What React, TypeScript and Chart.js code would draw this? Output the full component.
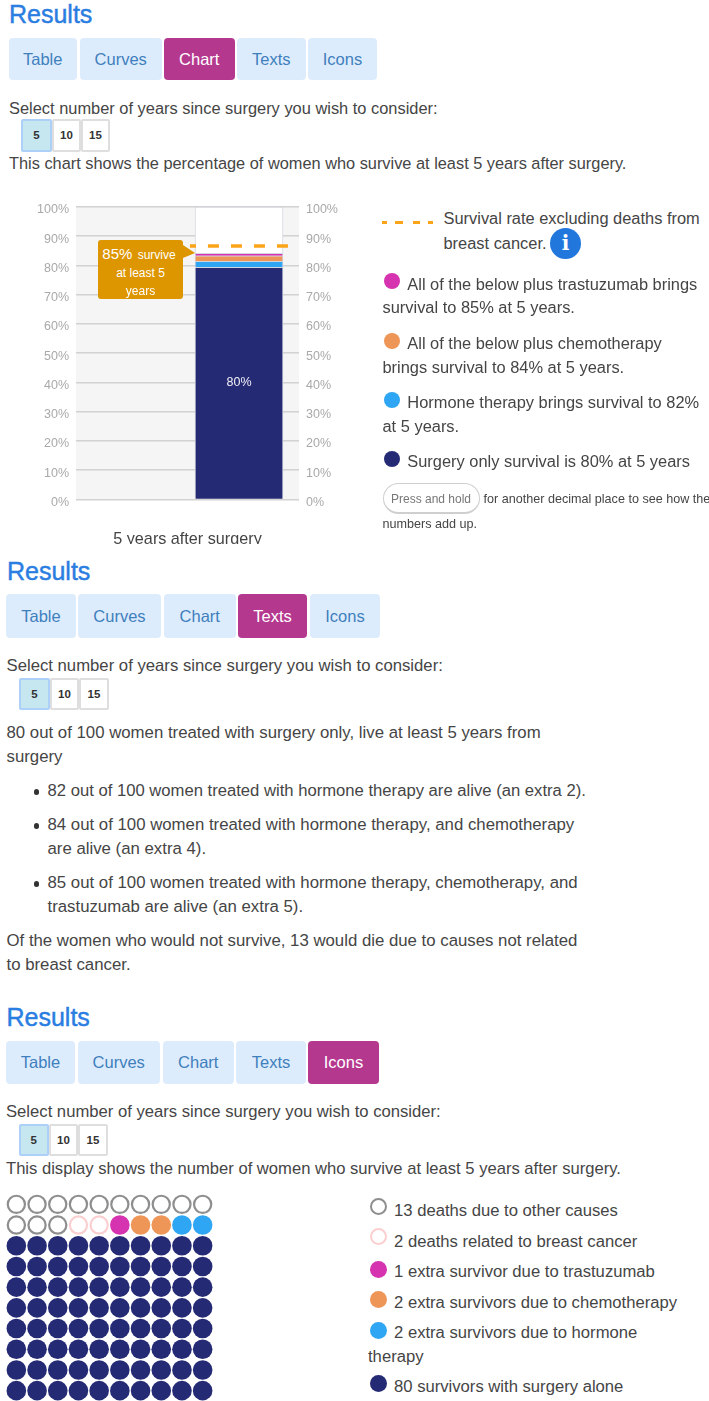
import React, { useEffect, useRef } from "react";
import { Chart, registerables } from "chart.js";

Chart.register(...registerables);

// ---- data ----
const barCategoryPosition = [0.731];
const barLabel = "5 years after surgery";
const barValueLabel = "80%";
const segmentNames = ["Surgery only", "Hormone therapy", "Chemotherapy", "Trastuzumab", "Remaining"];
const segmentValues = [79.4, 2, 1.9, 0.9, 15.8];
const segmentColors = ["#252a75", "#2ea6f3", "#ee9658", "#d533b0", "#ffffff"];
const excludingDeathsRate = [86.7, 86.7];
const excludingDeathsSpan = [0.511, 0.951];
const axisTicks = [0, 10, 20, 30, 40, 50, 60, 70, 80, 90, 100];

const iconNames = ["Other causes", "Breast cancer deaths", "Trastuzumab", "Chemotherapy", "Hormone therapy", "Surgery alone"];
const iconCounts = [13, 2, 1, 2, 2, 80];
const iconFill = ["#ffffff", "#ffffff", "#d533b0", "#ee9658", "#2ea6f3", "#252a75"];
const iconStroke = ["#8e8e8e", "#fbcfd0", "#d533b0", "#ee9658", "#2ea6f3", "#252a75"];
const iconHollow = [true, true, false, false, false, false];

const tabNames = ["Table", "Curves", "Chart", "Texts", "Icons"];
const yearOptions = ["5", "10", "15"];

const FONT = '"Liberation Sans", Arial, sans-serif';
const TEXT = "#454545";
const P1 = 16.42;
const P2 = 16.8;
const P3 = 16.65;

// ---- small html helpers ----
function Line(p: { x: number; y: number; size?: number; color?: string; children: React.ReactNode; center?: boolean; stroke?: number }) {
  const { x, y, size = P2, color = TEXT, center, stroke } = p;
  return (
    <div
      style={{
        position: "absolute",
        left: x,
        top: y - 12,
        height: 24,
        lineHeight: "24px",
        fontSize: size,
        color,
        whiteSpace: "nowrap",
        transform: center ? "translateX(-50%)" : undefined,
        WebkitTextStroke: stroke ? `${stroke}px ${color}` : undefined,
      }}
    >
      {p.children}
    </div>
  );
}

function Dot(p: { x: number; y: number; r: number; color: string; ring?: boolean }) {
  return (
    <div
      style={{
        position: "absolute",
        left: p.x - p.r,
        top: p.y - p.r,
        width: p.r * 2,
        height: p.r * 2,
        boxSizing: "border-box",
        borderRadius: "50%",
        background: p.ring ? "#fff" : p.color,
        border: p.ring ? `2.2px solid ${p.color}` : "none",
      }}
    />
  );
}

function Header(p: { size: number; headX: number; headY: number; top: number; bottom: number; tabs: number[][]; active: number; selectX: number; selectY: number; btnX: number[]; btnTop: number; btnBottom: number }) {
  return (
    <>
      <Line x={p.headX} y={p.headY} size={25} color="#2a7de1" stroke={0.45}>Results</Line>
      {tabNames.map((t, i) => (
        <div
          key={t}
          style={{
            position: "absolute",
            left: p.tabs[i][0],
            top: p.top,
            width: p.tabs[i][1] - p.tabs[i][0],
            height: p.bottom - p.top,
            lineHeight: `${p.bottom - p.top}px`,
            textAlign: "center",
            borderRadius: 4,
            fontSize: 16.5,
            background: i === p.active ? "#b5388f" : "#ddecfc",
            color: i === p.active ? "#fff" : "#3f7fbc",
          }}
        >
          {t}
        </div>
      ))}
      <Line x={p.selectX} y={p.selectY} size={p.size}>Select number of years since surgery you wish to consider:</Line>
      {yearOptions.map((t, i) => (
        <div
          key={t}
          style={{
            position: "absolute",
            left: p.btnX[i],
            top: p.btnTop,
            width: p.btnX[i + 1] - p.btnX[i],
            height: p.btnBottom - p.btnTop,
            lineHeight: `${p.btnBottom - p.btnTop - 4}px`,
            boxSizing: "border-box",
            textAlign: "center",
            fontSize: 11.5,
            fontWeight: 700,
            color: "#333",
            background: i === 0 ? "#c6e7f0" : "#fff",
            border: `2px solid ${i === 0 ? "#acd0f8" : "#dedede"}`,
            borderRadius: 2,
          }}
        >
          {t}
        </div>
      ))}
    </>
  );
}

// ---- charts ----
const plotBackground = {
  id: "plotBackground",
  beforeDraw(chart: any) {
    const { ctx, chartArea: a } = chart;
    ctx.save();
    ctx.fillStyle = "#f5f5f5";
    ctx.fillRect(a.left, a.top, a.right - a.left, a.bottom - a.top);
    ctx.restore();
  },
};

const baseLabel = {
  id: "baseLabel",
  afterDatasetsDraw(chart: any) {
    const el = chart.getDatasetMeta(0).data[0];
    const { ctx } = chart;
    ctx.save();
    ctx.fillStyle = "#f0f0f5";
    ctx.font = `12.5px ${FONT}`;
    ctx.textAlign = "center";
    ctx.textBaseline = "middle";
    ctx.fillText(barValueLabel, el.x, (el.y + el.base) / 2);
    ctx.restore();
  },
};

function pct(v: any) {
  return axisTicks.includes(Number(v)) ? `${v}%` : "";
}

export default function App() {
  const barRef = useRef<HTMLCanvasElement>(null);
  const dotRef = useRef<HTMLCanvasElement>(null);

  useEffect(() => {
    const tickFont = { family: FONT, size: 12.5 };
    const bar = new Chart(barRef.current!, {
      type: "bar",
      data: {
        datasets: [
          ...segmentNames.map((n, i) => ({
            type: "bar" as const,
            label: n,
            stack: "s",
            data: [{ x: barCategoryPosition[0], y: segmentValues[i] }],
            backgroundColor: segmentColors[i],
            borderColor: "#d4d6de",
            borderWidth: 1,
            barThickness: 88,
            order: 2,
          })),
          {
            type: "line" as const,
            label: "Survival rate excluding deaths from breast cancer",
            data: excludingDeathsSpan.map((x, i) => ({ x, y: excludingDeathsRate[i] })),
            borderColor: "#faa419",
            borderWidth: 3.5,
            borderDash: [11, 12],
            borderDashOffset: 5,
            pointRadius: 0,
            order: 1,
          },
        ],
      },
      options: {
        responsive: false,
        animation: false,
        layout: { autoPadding: false, padding: { top: 17 } },
        plugins: { legend: { display: false }, tooltip: { enabled: false } },
        scales: {
          x: {
            type: "linear",
            offset: false,
            min: 0,
            max: 1,
            grid: { display: false },
            border: { display: false },
            ticks: { display: false },
            title: { display: true, text: barLabel, color: "#444", font: { family: FONT, size: 16.2 }, padding: { top: 0, bottom: -5.6 } },
            afterFit(s: any) { s.height = 44.5; },
          },
          y: {
            stacked: true,
            min: 0,
            max: 100,
            position: "left",
            border: { display: false },
            grid: { color: "#d2d2d2", lineWidth: 1.6, drawTicks: false },
            ticks: { stepSize: 10, callback: pct, color: "#a9a9a9", font: tickFont, padding: 7, labelOffset: 3 },
            afterFit(s: any) { s.width = 76; },
          },
          y2: {
            min: 0,
            max: 100,
            position: "right",
            border: { display: false },
            grid: { display: false, drawTicks: false },
            ticks: { stepSize: 10, callback: pct, color: "#a9a9a9", font: tickFont, padding: 7, labelOffset: 3 },
            afterFit(s: any) { s.width = 61; },
          },
        },
      },
      plugins: [plotBackground, baseLabel],
    } as any);

    let cursor = 0;
    const iconDatasets = iconNames.map((n, i) => {
      const pts: { x: number; y: number }[] = [];
      for (let k = 0; k < iconCounts[i]; k++, cursor++) {
        pts.push({ x: (cursor % 10) + 1, y: 10 - Math.floor(cursor / 10) });
      }
      return {
        label: n,
        data: pts,
        backgroundColor: iconFill[i],
        borderColor: iconStroke[i],
        borderWidth: iconHollow[i] ? 2.2 : 0,
        pointRadius: iconHollow[i] ? 8.6 : 9.8,
        clip: false,
      };
    });
    const dots = new Chart(dotRef.current!, {
      type: "scatter",
      data: { datasets: iconDatasets },
      options: {
        responsive: false,
        animation: false,
        layout: { autoPadding: false, padding: 0 },
        plugins: { legend: { display: false }, tooltip: { enabled: false } },
        scales: {
          x: { display: false, min: 0.5, max: 10.5 },
          y: { display: false, min: 0.5, max: 10.5 },
        },
      },
    } as any);
    return () => {
      bar.destroy();
      dots.destroy();
    };
  }, []);

  return (
    <div style={{ position: "absolute", left: 0, top: 0, width: 709, height: 1401, overflow: "hidden", background: "#fff", fontFamily: FONT, filter: "blur(0.35px)" }}>
      {/* Panel 1: chart */}
      <Header size={P1} headX={9} headY={14} top={38} bottom={80} active={2}
        tabs={[[8.5, 77], [80, 161.5], [164, 234.5], [237, 305.5], [308, 377]]}
        selectX={9} selectY={108} btnX={[21, 52, 81, 110]} btnTop={119} btnBottom={152} />
      <Line x={9} y={163} size={16.35}>This chart shows the percentage of women who survive at least 5 years after surgery.</Line>

      <canvas ref={barRef} width={360} height={354} style={{ position: "absolute", left: 0, top: 190, width: 360, height: 354 }} />

      <div style={{ position: "absolute", left: 98, top: 240, width: 85, height: 59, background: "#dd9500", borderRadius: 3 }} />
      <div style={{ position: "absolute", left: 183, top: 245, width: 12, height: 13, background: "#dd9500", clipPath: "polygon(0 0, 100% 62%, 0 100%)" }} />
      <Line x={139} y={254} center size={12} color="#fff"><span style={{ fontSize: 15, marginRight: 2 }}>85%</span> survive</Line>
      <Line x={140.5} y={272.5} center size={12} color="#fff">at least 5</Line>
      <Line x={140.5} y={290.5} center size={12} color="#fff">years</Line>

      <div style={{ position: "absolute", left: 382, top: 220.5, width: 51, height: 3.5, background: "repeating-linear-gradient(90deg,#faa419 0 4.7px,transparent 4.7px 13.5px,#faa419 13.5px 21px,transparent 21px 30.7px,#faa419 30.7px 38px,transparent 38px 46px,#faa419 46px 51px)" }} />
      <Line x={443.5} y={217.5} size={P1}>Survival rate excluding deaths from</Line>
      <Line x={443.5} y={242.5} size={P1}>breast cancer.</Line>
      <div style={{ position: "absolute", left: 550, top: 228, width: 31, height: 31, borderRadius: "50%", background: "#2277dd", color: "#fff", textAlign: "center", lineHeight: "31px", fontFamily: '"DejaVu Serif", serif', fontWeight: 700, fontSize: 20 }}>i</div>

      <Dot x={392.3} y={281} r={8} color="#d533b0" />
      <Line x={407.3} y={283.5} size={P1}>All of the below plus trastuzumab brings</Line>
      <Line x={382.5} y={307} size={P1}>survival to 85% at 5 years.</Line>
      <Dot x={392.3} y={341} r={8} color="#ee9658" />
      <Line x={407.3} y={343} size={P1}>All of the below plus chemotherapy</Line>
      <Line x={382.5} y={366.5} size={P1}>brings survival to 84% at 5 years.</Line>
      <Dot x={392.3} y={400} r={8} color="#2ea6f3" />
      <Line x={407.3} y={401.5} size={P1}>Hormone therapy brings survival to 82%</Line>
      <Line x={382.5} y={425.5} size={P1}>at 5 years.</Line>
      <Dot x={392.3} y={459} r={8} color="#252a75" />
      <Line x={407.3} y={461} size={P1}>Surgery only survival is 80% at 5 years</Line>

      <div style={{ position: "absolute", left: 382.5, top: 483, width: 97, height: 31, boxSizing: "border-box", border: "1.5px solid #cfcfcf", borderBottomWidth: 2.5, borderRadius: 15.5, textAlign: "center", lineHeight: "30px", fontSize: 12, color: "#777" }}>Press and hold</div>
      <Line x={483.5} y={499} size={12.6}>for another decimal place to see how the</Line>
      <Line x={382.5} y={524} size={12.6}>numbers add up.</Line>

      {/* Panel 2: texts */}
      <Header size={16.72} headX={7} headY={570.5} top={593.5} bottom={638} active={3}
        tabs={[[6, 76], [78, 161], [163.5, 236], [238, 307], [310, 380]]}
        selectX={6.5} selectY={666} btnX={[19, 50, 79, 109]} btnTop={678} btnBottom={710} />
      <Line x={6.5} y={733}>80 out of 100 women treated with surgery only, live at least 5 years from</Line>
      <Line x={6.5} y={757}>surgery</Line>
      <Dot x={36.5} y={792} r={2.6} color="#333" />
      <Line x={47.5} y={791} size={16.65}>82 out of 100 women treated with hormone therapy are alive (an extra 2).</Line>
      <Dot x={36.5} y={826} r={2.6} color="#333" />
      <Line x={47.5} y={825}>84 out of 100 women treated with hormone therapy, and chemotherapy</Line>
      <Line x={47.5} y={849}>are alive (an extra 4).</Line>
      <Dot x={36.5} y={884} r={2.6} color="#333" />
      <Line x={47.5} y={883}>85 out of 100 women treated with hormone therapy, chemotherapy, and</Line>
      <Line x={47.5} y={907}>trastuzumab are alive (an extra 5).</Line>
      <Line x={6.5} y={941}>Of the women who would not survive, 13 would die due to causes not related</Line>
      <Line x={6.5} y={965}>to breast cancer.</Line>

      {/* Panel 3: icons */}
      <Header size={P3} headX={6.5} headY={1017} top={1040.5} bottom={1084} active={4}
        tabs={[[6, 75], [77.5, 160], [162.5, 234], [236, 306], [308, 379]]}
        selectX={6} selectY={1112} btnX={[18.5, 49, 78, 108]} btnTop={1124} btnBottom={1156} />
      <Line x={6} y={1169} size={16.6}>This display shows the number of women who survive at least 5 years after surgery.</Line>

      <canvas ref={dotRef} width={207} height={207} style={{ position: "absolute", left: 5.5, top: 1194, width: 207, height: 207 }} />

      <Dot x={378.5} y={1206.5} r={8.7} color="#8e8e8e" ring />
      <Line x={394} y={1211} size={P3}>13 deaths due to other causes</Line>
      <Dot x={378.5} y={1236.5} r={8.7} color="#fbcfd0" ring />
      <Line x={394} y={1241.5} size={P3}>2 deaths related to breast cancer</Line>
      <Dot x={378.5} y={1269} r={8.5} color="#d533b0" />
      <Line x={394} y={1272} size={P3}>1 extra survivor due to trastuzumab</Line>
      <Dot x={378.5} y={1299} r={8.5} color="#ee9658" />
      <Line x={394} y={1302.5} size={P3}>2 extra survivors due to chemotherapy</Line>
      <Dot x={378.5} y={1330} r={8.5} color="#2ea6f3" />
      <Line x={394} y={1333} size={P3}>2 extra survivors due to hormone</Line>
      <Line x={368} y={1356.5} size={P3}>therapy</Line>
      <Dot x={378.5} y={1383} r={8.5} color="#252a75" />
      <Line x={394} y={1387} size={P3}>80 survivors with surgery alone</Line>
    </div>
  );
}
